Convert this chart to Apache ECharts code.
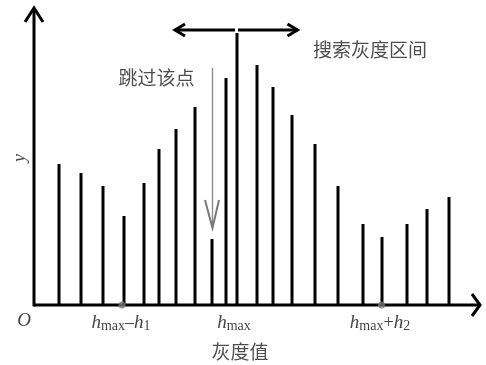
<!DOCTYPE html>
<html><head><meta charset="utf-8">
<script src="https://cdn.jsdelivr.net/npm/echarts@6/dist/echarts.min.js"></script>
<style>html,body{margin:0;padding:0;background:#fff}#c{width:486px;height:365px}</style>
</head><body><div id="c"></div>
<script>
// grey level positions and histogram counts
var greyLevels = [25, 47, 69, 90, 110, 125, 142, 161, 178, 192, 203, 223, 239, 258, 281, 304, 329, 348, 373, 393, 415];
var counts     = [141, 132, 119, 89, 122, 156, 176, 198, 66, 227, 272, 240, 218, 190, 161, 119, 81, 68, 81, 96, 108];
// marked points on the axis (h_max-h1, h_max+h2)
var markedLevels = [88, 347.5];
// annotation texts
var labelSkip = '跳过该点';
var labelRange = '搜索灰度区间';
var labelX = '灰度值';
var labelY = 'y';
var labelO = 'O';
var xMax = 446, yMax = 297;

var serif = 'Liberation Serif, Times New Roman, serif';
var cjk = 'Noto Sans CJK SC';
var hRich = {
  h: {fontFamily: serif, fontStyle: 'italic', fontSize: 19, color: '#111'},
  s: {fontFamily: serif, fontSize: 14, color: '#111', verticalAlign: 'bottom', padding:[6,0,0,0]},
  o: {fontFamily: serif, fontSize: 18, color: '#111'}
};
function txt(x, y, text, extra) {
  var lbl = Object.assign({show: true, position: 'inside', formatter: text, color: '#222'}, extra || {});
  return {value: [x, y], label: lbl};
}
var chart = echarts.init(document.getElementById('c'));
var lineS = function (pts, color, w, z) {
  return {type: 'line', data: pts, symbol: 'none', clip: false, silent: true,
    lineStyle: {color: color, width: w, cap: 'butt', join: 'miter'}, z: z || 5};
};
var hidden = {axisLine: {show: false}, axisTick: {show: false}, axisLabel: {show: false}, splitLine: {show: false}};
chart.setOption({
  animation: false,
  grid: {left: 0, right: 6, top: 8, bottom: 0},
  xAxis: Object.assign({type: 'value', min: -34, max: xMax}, hidden),
  yAxis: Object.assign({type: 'value', min: -60, max: yMax}, hidden),
  series: [
    {type: 'bar', barWidth: 3, data: greyLevels.map(function (g, i) { return [g, counts[i]]; }),
      itemStyle: {color: '#000'}, z: 3},
    // axes
    lineS([[0, 0], [xMax, 0]], '#000', 3, 4),
    lineS([[0, -1.5], [0, yMax]], '#000', 3, 4),
    // axis arrow heads
    lineS([[-9, yMax - 14], [0, yMax], [9, yMax - 14]], '#000', 3),
    lineS([[xMax - 8, -11], [xMax, 0], [xMax - 8, 11]], '#000', 3),
    // search range double arrow
    lineS([[141, 275], [201, 275]], '#000', 3),
    lineS([[204, 275], [263.5, 275]], '#000', 3),
    lineS([[151, 281], [141, 275], [151, 269]], '#000', 3),
    lineS([[253.5, 281], [263.5, 275], [253.5, 269]], '#000', 3),
    // skip arrow (grey)
    lineS([[178.5, 237], [178.5, 78]], '#888', 1.3),
    lineS([[171, 105], [178.5, 77], [185, 105]], '#777', 2),
    {type: 'scatter', data: markedLevels.map(function (g) { return [g, 0]; }), symbolSize: 7,
      itemStyle: {color: '#777'}, z: 8, silent: true, clip: false},
    {type: 'scatter', symbolSize: 0, silent: true, z: 9, clip: false, data: [
      txt(122.5, 227, labelSkip, {fontFamily: cjk, fontSize: 19, color: '#222'}),
      txt(336, 255, labelRange, {fontFamily: cjk, fontSize: 19, color: '#222'}),
      txt(206, -47, labelX, {fontFamily: cjk, fontSize: 19, color: '#222'}),
      txt(-10, -16, labelO, {fontFamily: serif, fontStyle: 'italic', fontSize: 19, color: '#111'}),
      txt(-14, 147, labelY, {fontFamily: serif, fontStyle: 'italic', fontSize: 18, color: '#111', rotate: 90}),
      txt(87, -18, '{h|h}{s|max}{o|\u2013}{h|h}{s|1}', {rich: hRich}),
      txt(200, -18, '{h|h}{s|max}', {rich: hRich}),
      txt(346, -18, '{h|h}{s|max}{o|+}{h|h}{s|2}', {rich: hRich})
    ]}
  ]
});
</script></body></html>
